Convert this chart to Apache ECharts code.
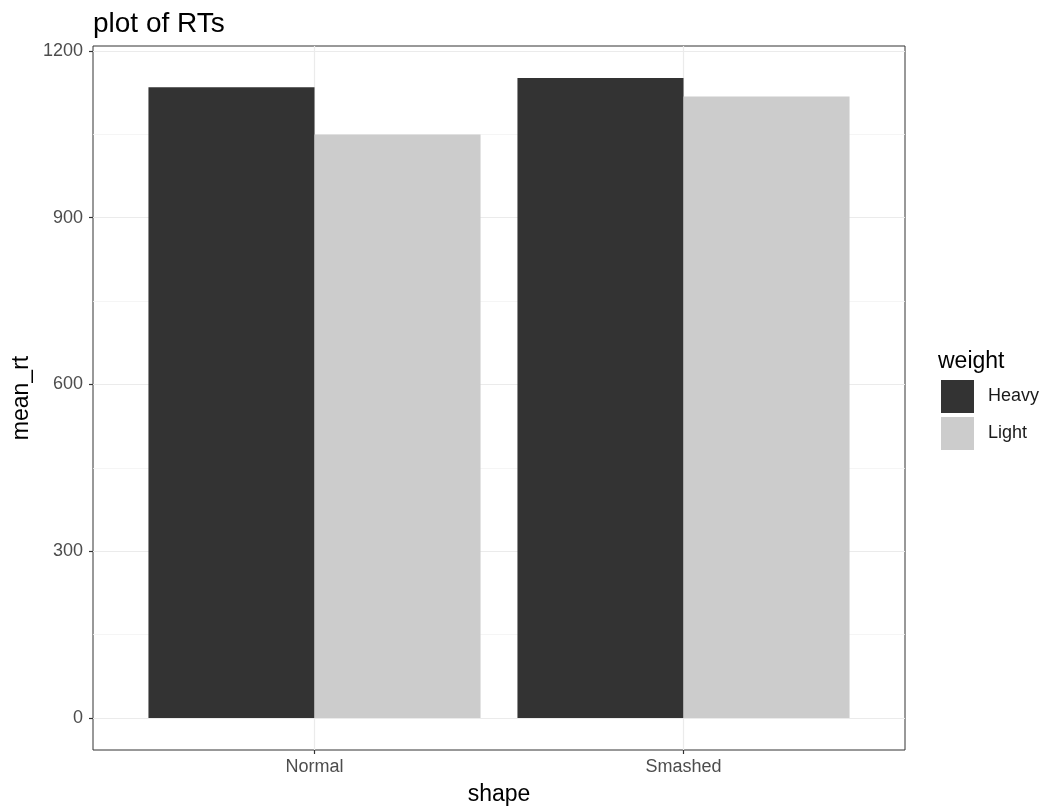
<!DOCTYPE html>
<html>
<head>
<meta charset="utf-8">
<script src="https://cdn.jsdelivr.net/npm/echarts@6/dist/echarts.min.js"></script>
<style>
  html, body { margin: 0; padding: 0; background: #fff; }
  #chart { width: 1041px; height: 809px; }
</style>
</head>
<body>
<div id="chart"></div>
<script>
const shapes = ['Normal', 'Smashed']
const heavy = [1134.5, 1151.3]
const light = [1049.6, 1117.8]
const yTicks = [0, 300, 600, 900, 1200]
const yMinor = [150, 450, 750, 1050]

// ggplot style 5% expansion
const dataMax = Math.max(...heavy, ...light)
const yMin = -0.05 * dataMax
const yMax = dataMax * 1.05

const font = 'Liberation Sans, Arial, Helvetica, sans-serif'
const chart = echarts.init(document.getElementById('chart'))

const option = {
  animation: false,
  textStyle: { fontFamily: font },
  grid: [
    // panel with border
    { left: 93, right: 136, top: 46, bottom: 59, show: true, borderColor: '#333333', borderWidth: 1, backgroundColor: 'transparent' },
    // bars: one unit per category, like a discrete ggplot scale
    { left: 130, right: 173, top: 46, bottom: 59 }
  ],
  xAxis: [
    {
      gridIndex: 0, type: 'value', min: 0.4, max: 2.6, position: 'bottom',
      axisLine: { show: false, onZero: false },
      axisTick: { show: true, length: 4, lineStyle: { color: '#333333', width: 1.2 }, customValues: [1, 2] },
      axisLabel: {
        customValues: [1, 2], color: '#4D4D4D', fontSize: 18, margin: 8,
        formatter: v => shapes[Math.round(v) - 1] || ''
      },
      splitLine: { show: true, lineStyle: { color: '#EBEBEB', width: 1.2 } }
    },
    {
      gridIndex: 1, type: 'category', data: shapes,
      axisLine: { show: false }, axisTick: { show: false }, axisLabel: { show: false },
      splitLine: { show: false }
    }
  ],
  yAxis: [
    {
      gridIndex: 0, type: 'value', min: yMin, max: yMax, position: 'left',
      axisLine: { show: false, onZero: false },
      axisTick: { show: true, length: 4, lineStyle: { color: '#333333', width: 1.2 }, customValues: yTicks },
      axisLabel: { customValues: yTicks, color: '#4D4D4D', fontSize: 18, margin: 10, formatter: v => String(Math.round(v)) },
      splitLine: { show: true, lineStyle: { color: '#EBEBEB', width: 1.2 } }
    },
    {
      gridIndex: 1, type: 'value', min: yMin, max: yMax, show: false
    },
    {
      // minor grid lines
      gridIndex: 0, type: 'value', min: yMin, max: yMax,
      axisLine: { show: false, onZero: false },
      axisTick: { show: false, customValues: yMinor },
      axisLabel: { show: false, customValues: yMinor },
      splitLine: { show: true, lineStyle: { color: '#F2F2F2', width: 0.8 } }
    }
  ],
  legend: {
    orient: 'vertical',
    left: 941,
    top: 380,
    padding: 0,
    itemWidth: 33,
    itemHeight: 33,
    itemGap: 4,
    icon: 'rect',
    textStyle: { fontSize: 18, color: '#1A1A1A', fontFamily: font, padding: [0, 0, 0, 9] },
    data: ['Heavy', 'Light']
  },
  graphic: [
    { type: 'text', x: 93, y: 24, style: { text: 'plot of RTs', font: '28px ' + font, fill: '#000', verticalAlign: 'middle' } },
    { type: 'text', x: 499, y: 795, style: { text: 'shape', font: '23px ' + font, fill: '#000', align: 'center', verticalAlign: 'middle' } },
    { type: 'text', x: 22, y: 398, rotation: Math.PI / 2, style: { text: 'mean_rt', font: '23px ' + font, fill: '#000', align: 'center', verticalAlign: 'middle' } },
    { type: 'text', x: 938, y: 362, style: { text: 'weight', font: '23px ' + font, fill: '#000', verticalAlign: 'middle' } }
  ],
  series: [
    {
      name: 'Heavy', type: 'bar', xAxisIndex: 1, yAxisIndex: 1,
      data: heavy, barGap: '0%', barCategoryGap: '10%',
      itemStyle: { color: '#333333' }
    },
    {
      name: 'Light', type: 'bar', xAxisIndex: 1, yAxisIndex: 1,
      data: light, barGap: '0%', barCategoryGap: '10%',
      itemStyle: { color: '#CCCCCC' }
    }
  ]
}
chart.setOption(option)
</script>
</body>
</html>
